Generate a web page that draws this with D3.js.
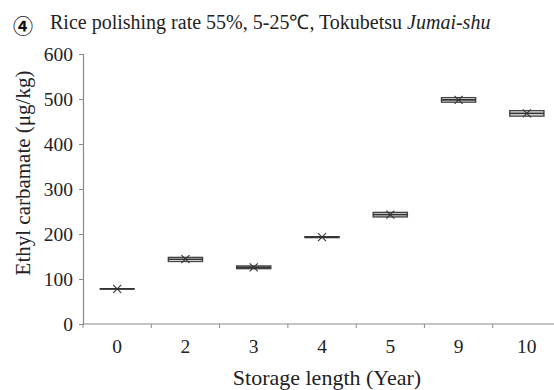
<!DOCTYPE html>
<html>
<head>
<meta charset="utf-8">
<script src="https://cdn.jsdelivr.net/npm/d3@7"></script>
</head>
<body style="margin:0">
<div id="chart"></div>
<script>
// storage years and box stats (ug/kg)
var years = ["0", "2", "3", "4", "5", "9", "10"];
var q1 = [78, 139, 123, 192, 238, 493, 462];
var median = [78, 144, 126, 193, 243, 498, 468];
var q3 = [78, 148, 129, 194, 248, 503, 474];
var mean = [78, 144, 126, 193, 243, 498, 468];
var yTicks = [0, 100, 200, 300, 400, 500, 600];

var w = 554, h = 390;

var svg = d3.select('#chart').append('svg')
  .attr('width', w)
  .attr('height', h);

var x = d3.scaleBand().domain(years).range([83, 561]).padding(0);
var y = d3.scaleLinear().domain([0, 600]).range([324, 54]);

var axisColor = '#8a8a8a';

// y axis
var yAxis = svg.append('g')
  .attr('transform', 'translate(83,0)')
  .call(d3.axisLeft(y).tickValues(yTicks).tickSize(4).tickPadding(6));
yAxis.select('.domain').attr('stroke', axisColor).attr('stroke-width', 1.2);
yAxis.selectAll('.tick line').attr('stroke', axisColor);
yAxis.selectAll('.tick text').attr('font-size', 19.5);

// x axis (ticks between categories)
var xAxis = svg.append('g').attr('transform', 'translate(0,324)');
xAxis.append('line')
  .attr('x1', 83).attr('x2', 561)
  .attr('stroke', axisColor).attr('stroke-width', 1.2);
xAxis.selectAll('.xtick')
  .data(years.concat(['end']))
  .enter().append('line')
  .attr('class', 'xtick')
  .attr('x1', function(d, i) { return 83 + i * x.bandwidth(); })
  .attr('x2', function(d, i) { return 83 + i * x.bandwidth(); })
  .attr('y1', 0).attr('y2', 4)
  .attr('stroke', axisColor);
xAxis.selectAll('.xlabel')
  .data(years)
  .enter().append('text')
  .attr('class', 'xlabel')
  .attr('x', function(d) { return x(d) + x.bandwidth() / 2; })
  .attr('y', 29)
  .attr('text-anchor', 'middle')
  .attr('font-size', 19.5)
  .text(function(d) { return d; });

// boxes
var boxW = x.bandwidth() * 0.5;
var boxes = svg.selectAll('.box')
  .data(years)
  .enter().append('g')
  .attr('class', 'box')
  .attr('transform', function(d) { return 'translate(' + (x(d) + x.bandwidth() / 2) + ',0)'; });

boxes.append('rect')
  .attr('x', -boxW / 2)
  .attr('width', boxW)
  .attr('y', function(d, i) { return y(q3[i]); })
  .attr('height', function(d, i) { return Math.max(0.01, y(q1[i]) - y(q3[i])); })
  .attr('fill', '#fff')
  .attr('stroke', '#444')
  .attr('stroke-width', 1.4);

boxes.append('line')
  .attr('x1', -boxW / 2).attr('x2', boxW / 2)
  .attr('y1', function(d, i) { return y(median[i]); })
  .attr('y2', function(d, i) { return y(median[i]); })
  .attr('stroke', '#333')
  .attr('stroke-width', 1.6);

// mean markers
var m = 4;
boxes.append('path')
  .attr('d', function(d, i) {
    var cy = y(mean[i]);
    return 'M' + (-m) + ',' + (cy - m) + 'L' + m + ',' + (cy + m) +
      'M' + (-m) + ',' + (cy + m) + 'L' + m + ',' + (cy - m);
  })
  .attr('stroke', '#333')
  .attr('stroke-width', 1.1)
  .attr('fill', 'none');

// axis titles
svg.append('text')
  .attr('x', 327)
  .attr('y', 385)
  .attr('text-anchor', 'middle')
  .attr('font-size', 22)
  .text('Storage length (Year)');

svg.append('text')
  .attr('transform', 'translate(30,173) rotate(-90)')
  .attr('text-anchor', 'middle')
  .attr('font-size', 21)
  .text('Ethyl carbamate (\u03bcg/kg)');

var title = svg.append('text')
  .attr('x', 50)
  .attr('y', 29)
  .attr('font-size', 20);
title.append('tspan').text('Rice polishing rate 55%, 5-25\u2103, Tokubetsu ');
title.append('tspan').attr('font-style', 'italic').text('Jumai-shu');

svg.selectAll('text')
  .attr('font-family', null)
  .style('font-family', "'Liberation Serif'")
  .style('fill', '#222');
yAxis.attr('font-family', null);

// panel number
svg.append('text')
  .attr('x', 13)
  .attr('y', 34)
  .attr('font-size', 20)
  .style('font-family', "'Noto Sans CJK JP'")
  .style('font-weight', 'bold')
  .style('fill', '#111')
  .text('\u2463');
</script>
</body>
</html>
